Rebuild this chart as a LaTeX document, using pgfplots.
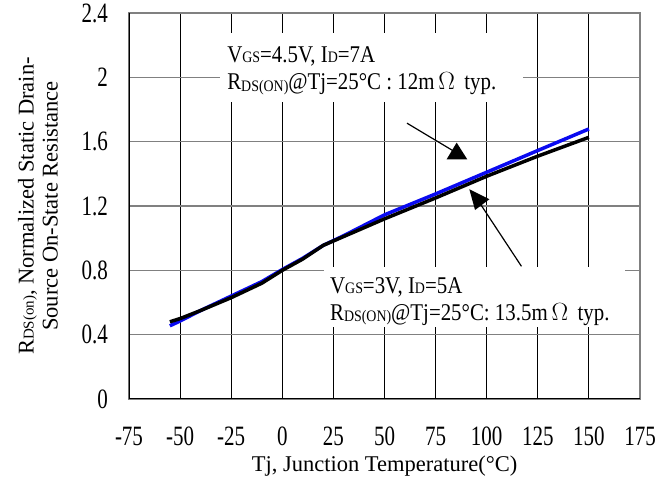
\documentclass[border=0pt]{standalone}
\usepackage{fontspec}
\setmainfont{Liberation Serif}
\newfontfamily\tickfont[FakeStretch=0.75]{Liberation Serif}
\newfontfamily\notefont[FakeStretch=0.87]{Liberation Serif}
\usepackage{pgfplots}
\pgfplotsset{compat=1.18}
\definecolor{curveblue}{RGB}{10,10,240}
\begin{document}
\begin{tikzpicture}
\begin{axis}[
    scale only axis,
    width=511pt, height=386pt,
    xmin=-75, xmax=175,
    ymin=0, ymax=2.4,
    xtick={-75,-50,...,175},
    ytick={0,0.4,...,2.4},
    yticklabels={0,0.4,0.8,1.2,1.6,2,2.4},
    xmajorgrids, ymajorgrids,
    x grid style={black, line width=0.9pt},
    y grid style={gray, line width=1.3pt},
    axis line style={gray, line width=1.3pt},
    major tick length=0pt,
    /pgf/number format/assume math mode=true,
    tick label style={font=\tickfont\fontsize{28}{28}\selectfont, inner sep=0pt},
    xticklabel style={anchor=center, yshift=-37pt},
    yticklabel style={anchor=east, xshift=-21pt},
    xlabel={Tj, Junction Temperature(\textdegree C)},
    xlabel style={font=\fontsize{22.5}{26}\selectfont, at={(axis description cs:0.5,0)}, anchor=center, yshift=-67pt},
    ylabel={R{\fontsize{15}{15}\selectfont DS(on)}, Normalized Static Drain-\\Source On-State Resistance},
    ylabel style={font=\fontsize{22.5}{24}\selectfont, align=center, at={(axis description cs:-0.178,0.5)}, anchor=center},
]
% text boxes hide the grid
\fill[white] (axis cs:-30.5,1.847) rectangle (axis cs:117.6,2.276);
\fill[white] (axis cs:20.6,0.448) rectangle (axis cs:167.7,0.821);

\addplot[curveblue, line width=3.5pt] coordinates {
(-55,0.455) (-50,0.485) (-40,0.55) (-25,0.64) (-10,0.73) (0,0.805) (10,0.875) (20,0.955) (30,1.015) (40,1.08) (50,1.145) (75,1.275) (100,1.41) (125,1.545) (150,1.679)
};
\addplot[black, line width=3.5pt] coordinates {
(-55,0.48) (-50,0.50) (-40,0.55) (-25,0.63) (-10,0.72) (0,0.80) (10,0.87) (20,0.955) (30,1.01) (40,1.065) (50,1.12) (75,1.25) (100,1.385) (125,1.51) (150,1.627)
};

\draw[black, line width=1.5pt] (rel axis cs:0,1) -- (rel axis cs:0,0) -- (rel axis cs:1,0);

% arrows
\draw[line width=1.2pt] (axis cs:61,1.715) -- (axis cs:85.3,1.53);
\fill (axis cs:85.3,1.594) -- (axis cs:80.4,1.49) -- (axis cs:90.5,1.49) -- cycle;
\draw[line width=1.2pt] (axis cs:117,0.825) -- (axis cs:96,1.23);
\fill (axis cs:91.5,1.304) -- (axis cs:101.3,1.242) -- (axis cs:94.3,1.175) -- cycle;

\node[anchor=west, align=left, inner sep=0pt, font=\notefont\fontsize{24}{27}\selectfont] at (axis cs:-27,2.04)
  {V{\fontsize{16}{16}\selectfont GS}=4.5V, I{\fontsize{16}{16}\selectfont D}=7A\\
   R\raisebox{-1.5pt}{\fontsize{16}{16}\selectfont DS(ON)}@Tj=25\textdegree C : 12m\,$\Omega$\, typ.};
\node[anchor=west, align=left, inner sep=0pt, font=\notefont\fontsize{24}{27}\selectfont] at (axis cs:23.3,0.606)
  {V{\fontsize{16}{16}\selectfont GS}=3V, I{\fontsize{16}{16}\selectfont D}=5A\\
   R\raisebox{-1.5pt}{\fontsize{16}{16}\selectfont DS(ON)}@Tj=25\textdegree C: 13.5m\,$\Omega$\, typ.};
\end{axis}
\pgfresetboundingbox
\path[use as bounding box] ([xshift=-129pt,yshift=-84pt]current axis.south west) rectangle ([xshift=29pt,yshift=13pt]current axis.north east);
\end{tikzpicture}
\end{document}
